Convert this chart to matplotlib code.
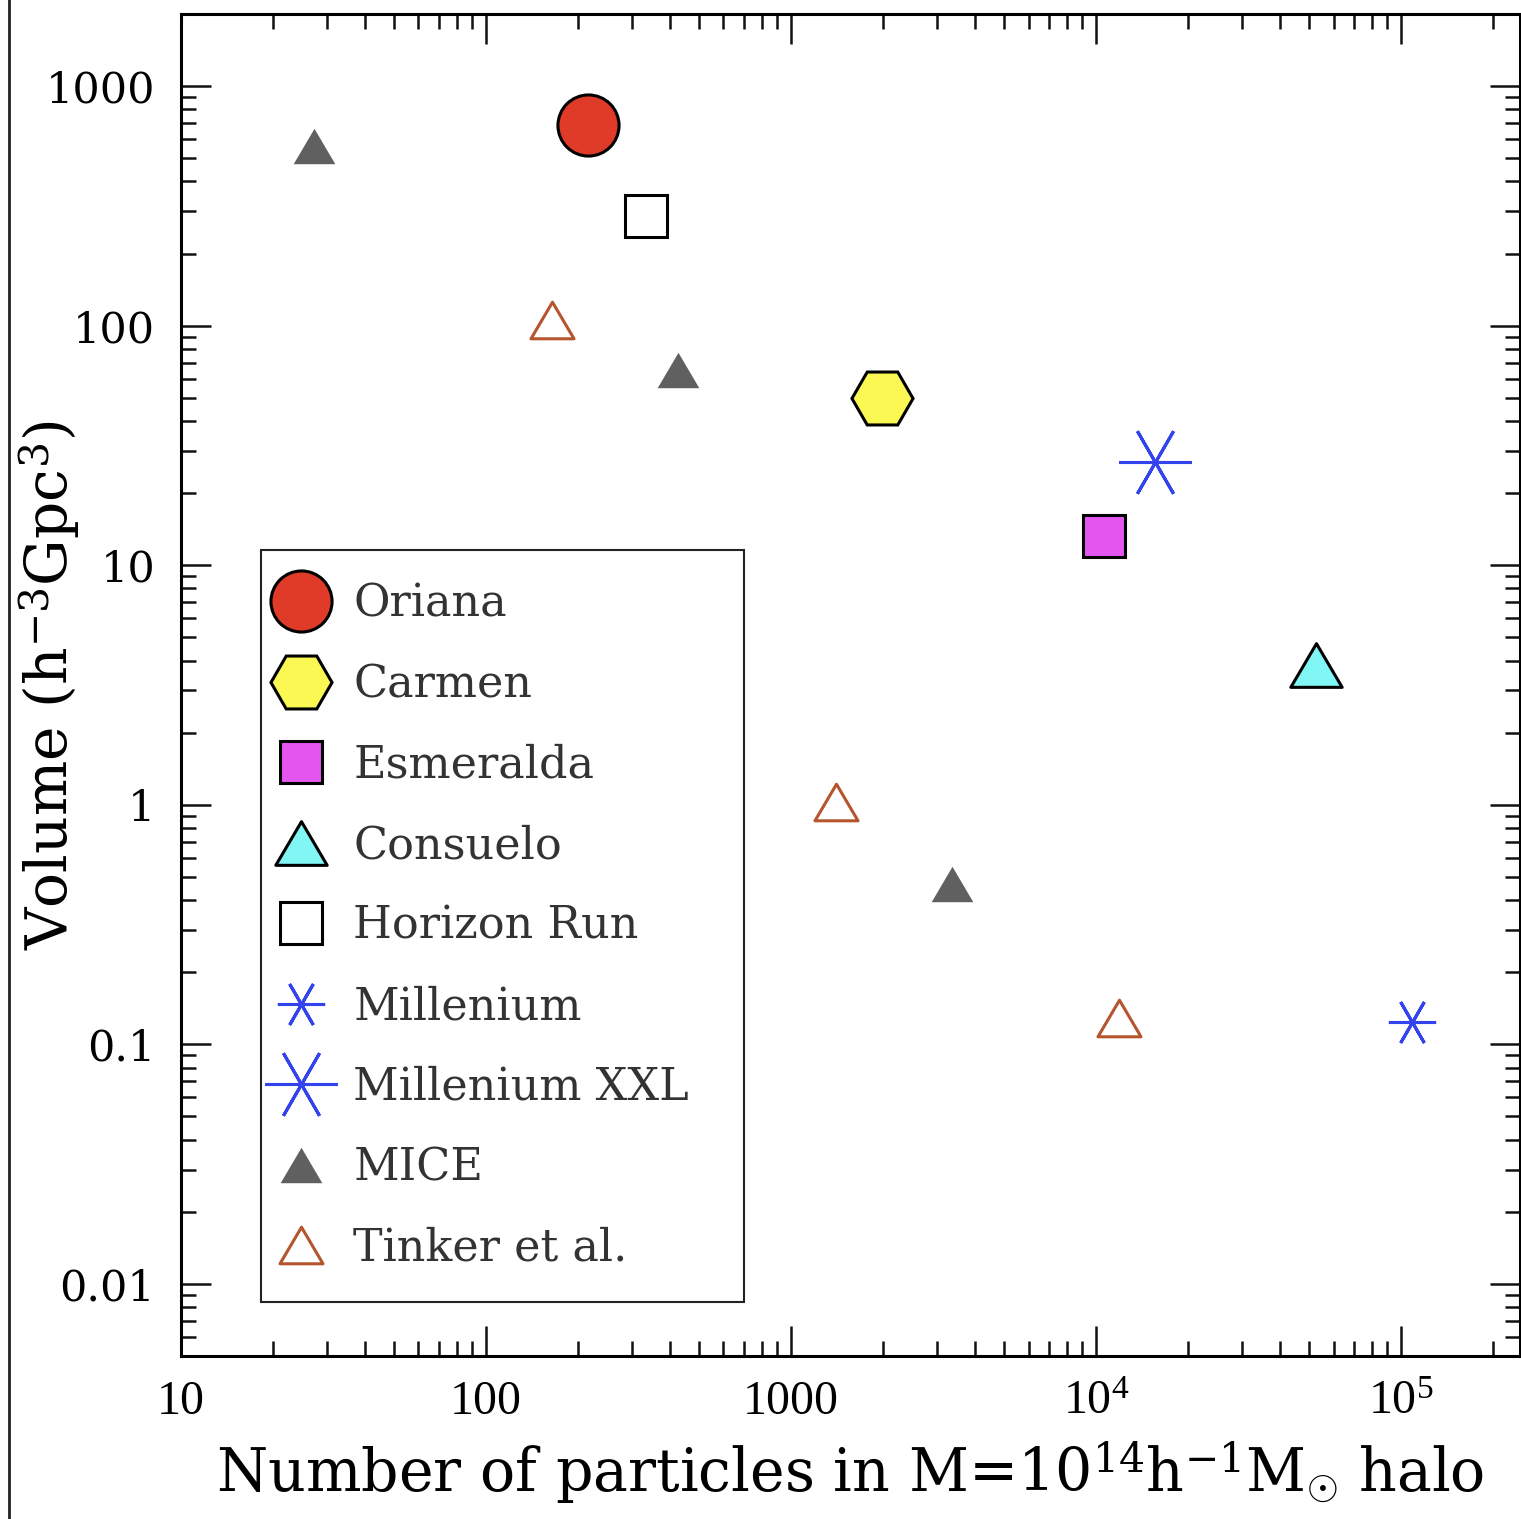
import numpy as np
import matplotlib
matplotlib.use("Agg")
import matplotlib.pyplot as plt
from matplotlib.lines import Line2D
from matplotlib.path import Path
from matplotlib.ticker import LogLocator, FixedLocator, FixedFormatter, NullFormatter

plt.rcParams['mathtext.fontset'] = 'custom'
plt.rcParams['mathtext.rm'] = 'Liberation Serif'
plt.rcParams['mathtext.it'] = 'Liberation Serif:italic'

# simulations: (name, particles in 1e14 Msun/h halo, volume in (Gpc/h)^3)
names = ["Oriana", "Carmen", "Esmeralda", "Consuelo", "Horizon Run",
         "Millenium", "Millenium XXL"]
n_part = [216, 1990, 10600, 52600, 335, 108700, 15600]
volume = [690, 50, 13.2, 3.85, 286, 0.124, 27.1]

mice_n = [27.3, 427, 3370]
mice_v = [561, 65.6, 0.467]

tinker_n = [164, 1406, 11900]
tinker_v = [106, 1.03, 0.129]

xticks = [10, 100, 1000, 1e4, 1e5]
xticklabels = ["10", "100", "1000", r"$\mathregular{10^4}$", r"$\mathregular{10^5}$"]
yticks = [0.01, 0.1, 1, 10, 100, 1000]
yticklabels = ["0.01", "0.1", "1", "10", "100", "1000"]

# triangle marker, closed so the edge goes all round
tri = Path([(-1, -0.85), (1, -0.85), (0, 0.85), (-1, -0.85)], closed=True)
styles = {
    "Oriana": dict(marker='o', ms=44, mfc='#e03a28', mec='black', mew=2.2),
    "Carmen": dict(marker='H', ms=44, mfc='#fbf753', mec='black', mew=2.2),
    "Esmeralda": dict(marker='s', ms=30, mfc='#e455f0', mec='black', mew=2.2),
    "Consuelo": dict(marker=tri, ms=37, mfc='#80f7f5', mec='black', mew=2.2),
    "Horizon Run": dict(marker='s', ms=30, mfc='white', mec='black', mew=2.2),
    "Millenium": dict(marker=(6, 2, 90), ms=34, mfc='none', mec='#3344ee', mew=2.2),
    "Millenium XXL": dict(marker=(6, 2, 90), ms=52, mfc='none', mec='#3344ee', mew=2.2),
}

fig = plt.figure(figsize=(15.21, 15.19), dpi=100)
ax = fig.add_axes([181 / 1521, 163 / 1519, 1339 / 1521, 1342 / 1519])
ax.set_xscale('log')
ax.set_yscale('log')

handles = {}
for nm, x, y in zip(names, n_part, volume):
    h, = ax.plot([x], [y], ls='none', label=nm, **styles[nm])
    handles[nm] = h

h_mice, = ax.plot(mice_n, mice_v, ls='none', marker=tri, ms=30, mfc='#606060',
                  mec='#606060', mew=0, label="MICE")
h_tink, = ax.plot(tinker_n, tinker_v, ls='none', marker=tri, ms=31, mfc='none',
                  mec='#b4552e', mew=2.2, label="Tinker et al.")

ax.set_xlim(10, 2.45e5)
ax.set_ylim(0.005, 2000)

for s in ax.spines.values():
    s.set_linewidth(2.2)

ax.xaxis.set_major_locator(FixedLocator(xticks))
ax.xaxis.set_major_formatter(FixedFormatter(xticklabels))
ax.yaxis.set_major_locator(FixedLocator(yticks))
ax.yaxis.set_major_formatter(FixedFormatter(yticklabels))
ax.xaxis.set_minor_locator(LogLocator(base=10, subs=np.arange(2, 10), numticks=20))
ax.yaxis.set_minor_locator(LogLocator(base=10, subs=np.arange(2, 10), numticks=20))
ax.xaxis.set_minor_formatter(NullFormatter())
ax.yaxis.set_minor_formatter(NullFormatter())

ax.tick_params(which='both', direction='in', top=True, right=True, color='#111111')
ax.tick_params(which='major', length=21.6, width=1.8)
ax.tick_params(which='minor', length=10.8, width=1.8)
ax.tick_params(axis='x', which='major', pad=17, labelsize=34.5,
               labelfontfamily='Liberation Serif')
ax.tick_params(axis='y', which='major', pad=18.7, labelsize=31,
               labelfontfamily='DejaVu Serif')

ax.set_xlabel(r"Number of particles in M=10$^{\mathregular{14}}$h$^{\mathregular{-1}}$M$_{\odot}$ halo",
              fontsize=42.2, family='DejaVu Serif')
ax.xaxis.set_label_coords(0.5, -0.062)
ax.xaxis.label.set_va('top')
ax.set_ylabel(r"Volume (h$^{\mathregular{-3}}$Gpc$^{\mathregular{3}}$)", fontsize=42,
              family='DejaVu Serif')
ax.yaxis.set_label_coords(-0.0732, 0.5)

order = names[:5] + ["Millenium", "Millenium XXL"]
leg_handles = [handles[n] for n in order] + [h_mice, h_tink]
leg = ax.legend(leg_handles, [h.get_label() for h in leg_handles],
                loc='lower left', bbox_to_anchor=(0.0597, 0.0402, 0.3608, 0.56),
                mode='expand', borderaxespad=0, fancybox=False, framealpha=1,
                edgecolor='#222222', borderpad=0.73, handlelength=0.35,
                handletextpad=1.0, labelspacing=0.84, numpoints=1,
                prop={'family': 'DejaVu Serif', 'size': 32})
leg.get_frame().set_linewidth(1.5)
for t in leg.get_texts():
    t.set_color('#333333')

# screenshot border on the left
fig.add_artist(Line2D([9 / 1521, 9 / 1521], [0, 1], transform=fig.transFigure,
                      color='#222222', lw=2))

fig.savefig("out.png", dpi=100)
